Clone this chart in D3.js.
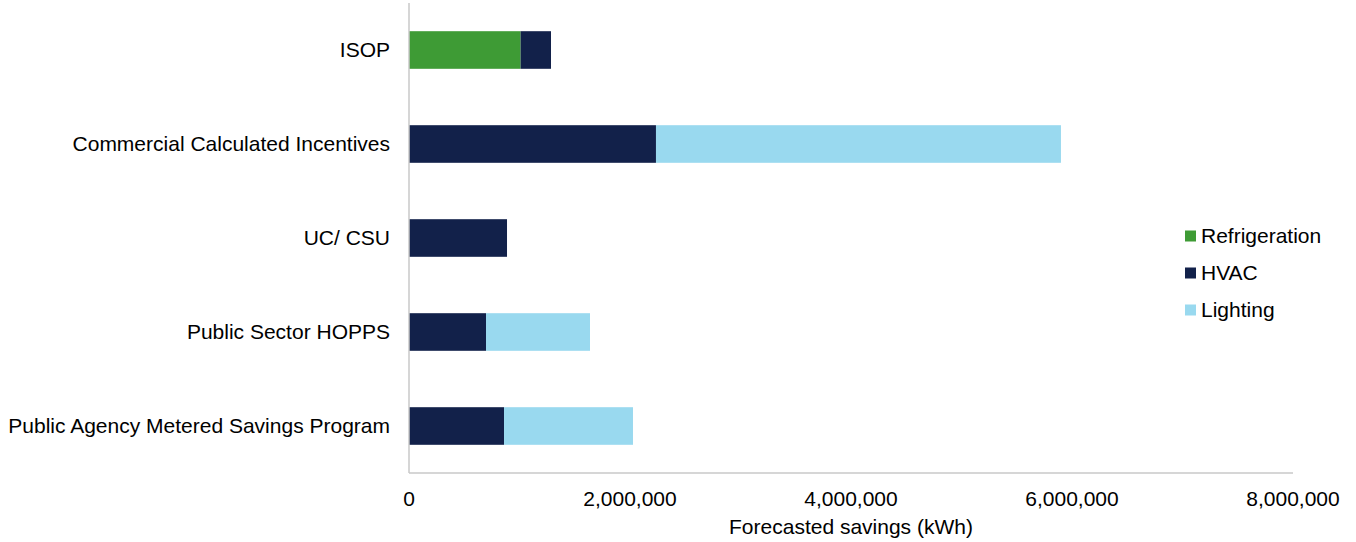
<!DOCTYPE html>
<html><head><meta charset="utf-8">
<script src="https://cdn.jsdelivr.net/npm/d3@7"></script>
<style>body{margin:0;background:#fff}svg{display:block;font-family:"Liberation Sans",Arial,sans-serif}</style>
</head><body><svg id="c" width="1356" height="542"></svg>
<script>
const categories = ["ISOP","Commercial Calculated Incentives","UC/ CSU","Public Sector HOPPS","Public Agency Metered Savings Program"];
const seriesNames = ["Refrigeration","HVAC","Lighting"];
const refrigeration = [1010000,0,0,0,0];
const hvac = [275000,2235000,887000,697000,860000];
const lighting = [0,3665000,0,941000,1167000];
const xTicks = [0,2000000,4000000,6000000,8000000];
const colors = ["#3e9b35","#12214a","#99d9ef"];

(function(){
const svg = d3.select("#c");
const L = 409, R = 1293, T = 3, B = 473;
const FS = 21;
const x = d3.scaleLinear().domain([0,8000000]).range([L,R]);
const y = d3.scaleBand().domain(categories).range([T,B]).paddingInner(0.6).paddingOuter(0.3);

const rows = categories.map((c,i)=>({cat:c,Refrigeration:refrigeration[i],HVAC:hvac[i],Lighting:lighting[i]}));
const stack = d3.stack().keys(seriesNames)(rows);

svg.append("g").selectAll("g").data(stack).join("g").attr("fill",(d,i)=>colors[i])
  .selectAll("rect").data(d=>d.filter(p=>p[1]>p[0])).join("rect")
  .attr("x",d=>x(d[0])).attr("width",d=>x(d[1])-x(d[0]))
  .attr("y",d=>y(d.data.cat)).attr("height",y.bandwidth());

svg.append("line").attr("x1",L).attr("x2",L).attr("y1",T).attr("y2",B).attr("stroke","#c8c8c8").attr("stroke-width",1.5);
svg.append("line").attr("x1",L).attr("x2",R).attr("y1",B).attr("y2",B).attr("stroke","#c8c8c8").attr("stroke-width",1.5);

const fmt = d3.format(",");
svg.append("g").selectAll("text").data(xTicks).join("text")
  .attr("x",d=>x(d)).attr("y",506).attr("text-anchor","middle")
  .attr("font-size",FS).attr("fill","#000").text(d=>fmt(d));

svg.append("text").attr("x",(L+R)/2).attr("y",534).attr("text-anchor","middle")
  .attr("font-size",FS).text("Forecasted savings (kWh)");

svg.append("g").selectAll("text").data(categories).join("text")
  .attr("x",390).attr("y",d=>y(d)+y.bandwidth()/2).attr("dy","0.35em").attr("text-anchor","end")
  .attr("font-size",FS).text(d=>d);

const lg = svg.append("g").selectAll("g").data(seriesNames).join("g")
  .attr("transform",(d,i)=>`translate(1185,${236+i*37})`);
lg.append("rect").attr("x",0).attr("y",-5.5).attr("width",11).attr("height",11).attr("fill",(d,i)=>colors[i]);
lg.append("text").attr("x",16).attr("dy","0.35em").attr("font-size",FS).text(d=>d);
})();
</script></body></html>
